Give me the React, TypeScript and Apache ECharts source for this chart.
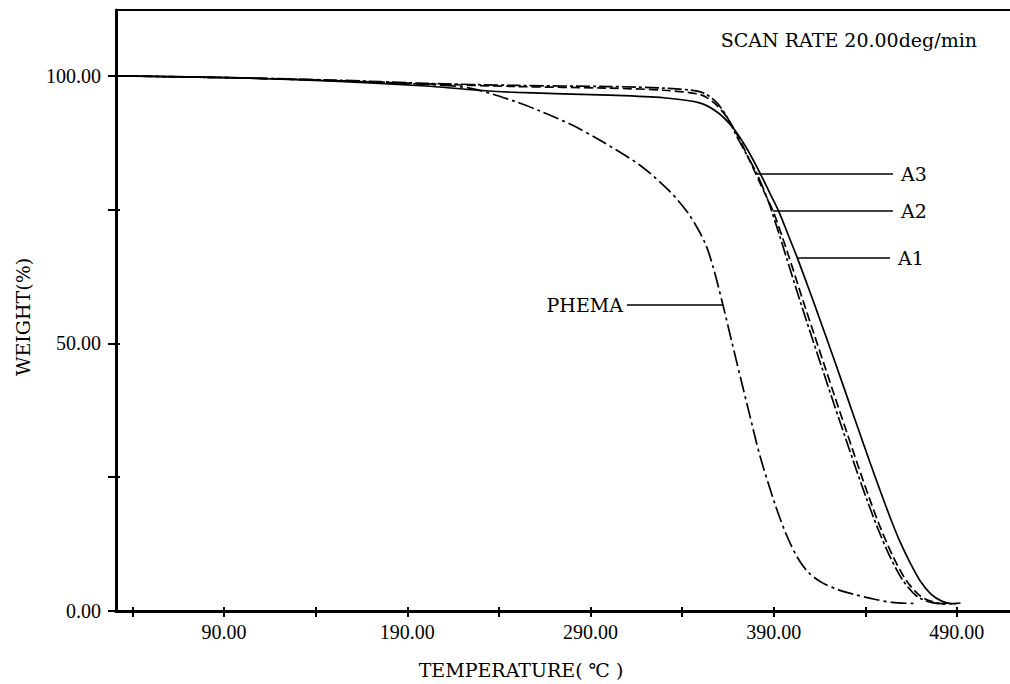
import { useEffect, useRef } from "react";
import * as echarts from "echarts";

// Thermogravimetric curves: temperature (°C) vs. remaining weight (%)
const a1Temp = [31, 100, 150, 200, 225, 250, 300, 330, 350, 360, 368, 375, 382, 388, 393, 398, 403, 408, 413, 418, 424, 430, 436, 442, 448, 454, 459, 464.5, 470, 476, 482, 487, 492];
const a1Weight = [100, 99.6, 99.0, 98.1, 97.4, 96.9, 96.4, 95.9, 94.9, 93.0, 90.2, 86.6, 82.2, 78.0, 74.5, 70.2, 65.9, 61.3, 56.6, 51.8, 46.0, 40.1, 34.2, 28.3, 22.6, 17.1, 12.9, 9.0, 5.6, 3.1, 1.8, 1.4, 1.5];

const a2Temp = [31, 100, 150, 200, 250, 300, 330, 350, 358, 365, 371, 377, 383, 389.7, 395, 400.6, 406, 412, 418, 424, 430, 436, 442, 448, 455, 462, 470, 478, 485, 490];
const a2Weight = [100, 99.6, 99.1, 98.5, 98.0, 97.7, 97.3, 96.5, 94.8, 92.0, 88.4, 84.1, 79.6, 74.7, 69.6, 63.8, 58.0, 51.8, 45.6, 39.4, 33.3, 27.2, 21.3, 15.8, 10.3, 5.9, 2.8, 1.6, 1.3, 1.4];

const a3Temp = [31, 100, 150, 200, 250, 300, 330, 350, 358, 364, 370, 376, 381, 387, 393, 399, 405, 411, 417, 423, 429, 435, 441, 447, 453, 460, 468, 476, 484];
const a3Weight = [100, 99.6, 99.2, 98.6, 98.2, 98.0, 97.7, 97.0, 95.3, 92.6, 88.6, 84.8, 81.6, 76.6, 70.4, 63.8, 57.3, 51.0, 44.8, 38.6, 32.5, 26.5, 20.7, 15.3, 10.5, 6.0, 2.8, 1.6, 1.3];

const phemaTemp = [31, 100, 150, 200, 224, 249, 262.5, 280, 295, 317, 333, 344, 352.5, 357, 362.3, 367, 371.6, 377, 382.5, 390.7, 397, 403.3, 409, 416.4, 425, 432.8, 445, 454.6, 467];
const phemaWeight = [100, 99.6, 99.1, 98.4, 97.7, 95.2, 93.4, 90.8, 88.0, 83.3, 78.5, 74.0, 68.8, 64.2, 57.2, 50.5, 44.0, 36.5, 29.0, 20.0, 14.2, 9.8, 7.2, 5.3, 4.0, 3.2, 2.2, 1.6, 1.4];

// Axis ticks and labels
const tempTicks = [40, 90, 140, 190, 240, 290, 340, 390, 440, 490];
const tempLabels = [90, 190, 290, 390, 490];
const weightTicks = [0, 25, 50, 75, 100];
const weightLabels = [0, 50, 100];

// Annotation leaders: [start temp, end temp, weight]
const leaderA1 = [403.3, 453.5, 65.96];
const leaderA2 = [389.6, 455.1, 74.74];
const leaderA3 = [381.0, 455.1, 81.65];
const leaderPhema = [309.9, 362.3, 57.17];

const zip = (xs: number[], ys: number[]) => xs.map((x, i) => [x, ys[i]]);

const TEXT_FONT = "DejaVu Serif";
const NUM_FONT = "Liberation Serif";

const leader = (name: string, l: number[], pos: "start" | "end") => ({
  silent: true,
  symbol: ["none", "none"],
  lineStyle: { type: "solid", color: "#000", width: 1.5 },
  label: {
    show: true,
    position: pos,
    formatter: name,
    distance: pos === "end" ? 8 : 4,
    color: "#000",
    fontFamily: TEXT_FONT,
    fontSize: 19,
  },
  data: [[{ coord: [l[0], l[2]] }, { coord: [l[1], l[2]] }]],
});

const curve = (name: string, data: number[][], type: any, l: number[], pos: "start" | "end") => ({
  name,
  type: "line",
  data,
  xAxisIndex: 0,
  yAxisIndex: 0,
  symbol: "none",
  smooth: 0.3,
  lineStyle: { color: "#000", width: 1.7, type },
  markLine: leader(name, l, pos),
});

export default function App() {
  const ref = useRef<HTMLDivElement>(null);

  useEffect(() => {
    const chart = echarts.init(ref.current!, null, { renderer: "svg" });
    const fmt = (v: number) => v.toFixed(2);
    const option: any = {
      animation: false,
      backgroundColor: "#fff",
      grid: { left: 116, right: 0, top: 10, bottom: 73, containLabel: false },
      xAxis: [
        {
          type: "value",
          min: 31,
          max: 519,
          position: "bottom",
          axisLine: { show: true, lineStyle: { color: "#000", width: 3 } },
          axisTick: { show: true, customValues: tempTicks, length: 6, lineStyle: { color: "#000", width: 2 } },
          axisLabel: {
            customValues: tempLabels,
            formatter: fmt,
            color: "#000",
            fontFamily: NUM_FONT,
            fontSize: 20,
            margin: 11,
          },
          splitLine: { show: false },
        },
        {
          type: "value",
          min: 31,
          max: 519,
          position: "bottom",
          axisLine: { show: false },
          axisTick: { show: true, inside: true, customValues: tempTicks, length: 4, lineStyle: { color: "#000", width: 2 } },
          axisLabel: { show: false },
          splitLine: { show: false },
        },
        {
          type: "value",
          min: 31,
          max: 519,
          position: "top",
          axisLine: { show: true, lineStyle: { color: "#000", width: 2.2 } },
          axisTick: { show: false },
          axisLabel: { show: false },
          splitLine: { show: false },
        },
      ],
      yAxis: [
        {
          type: "value",
          min: 0,
          max: 112.3,
          position: "left",
          axisLine: { show: true, lineStyle: { color: "#000", width: 3 } },
          axisTick: { show: true, customValues: weightTicks, length: 8, lineStyle: { color: "#000", width: 2 } },
          axisLabel: {
            customValues: weightLabels,
            formatter: fmt,
            color: "#000",
            fontFamily: NUM_FONT,
            fontSize: 20,
            margin: 15,
          },
          splitLine: { show: false },
        },
        {
          type: "value",
          min: 0,
          max: 112.3,
          position: "left",
          axisLine: { show: false },
          axisTick: { show: true, inside: true, customValues: weightTicks, length: 4, lineStyle: { color: "#000", width: 2 } },
          axisLabel: { show: false },
          splitLine: { show: false },
        },
      ],
      graphic: [
        {
          type: "text",
          x: 977,
          y: 40,
          style: {
            text: "SCAN RATE 20.00deg/min",
            fill: "#000",
            font: `19px "${TEXT_FONT}"`,
            textAlign: "right",
            textVerticalAlign: "middle",
          },
        },
        {
          type: "text",
          x: 521,
          y: 670,
          style: {
            text: "TEMPERATURE( ℃ )",
            fill: "#000",
            font: `19px "${TEXT_FONT}"`,
            textAlign: "center",
            textVerticalAlign: "middle",
          },
        },
        {
          type: "text",
          x: 23,
          y: 317,
          rotation: Math.PI / 2,
          style: {
            text: "WEIGHT(%)",
            fill: "#000",
            font: `19px "${TEXT_FONT}"`,
            textAlign: "center",
            textVerticalAlign: "middle",
          },
        },
      ],
      series: [
        curve("A1", zip(a1Temp, a1Weight), "solid", leaderA1, "end"),
        curve("A2", zip(a2Temp, a2Weight), [9, 4], leaderA2, "end"),
        curve("A3", zip(a3Temp, a3Weight), [14, 3, 3, 3], leaderA3, "end"),
        curve("PHEMA", zip(phemaTemp, phemaWeight), [16, 4, 3, 4], leaderPhema, "start"),
      ],
    };
    chart.setOption(option);
    return () => chart.dispose();
  }, []);

  return (
    <div
      ref={ref}
      style={{ position: "fixed", left: 0, top: 0, width: 1010, height: 684, background: "#fff" }}
    />
  );
}
